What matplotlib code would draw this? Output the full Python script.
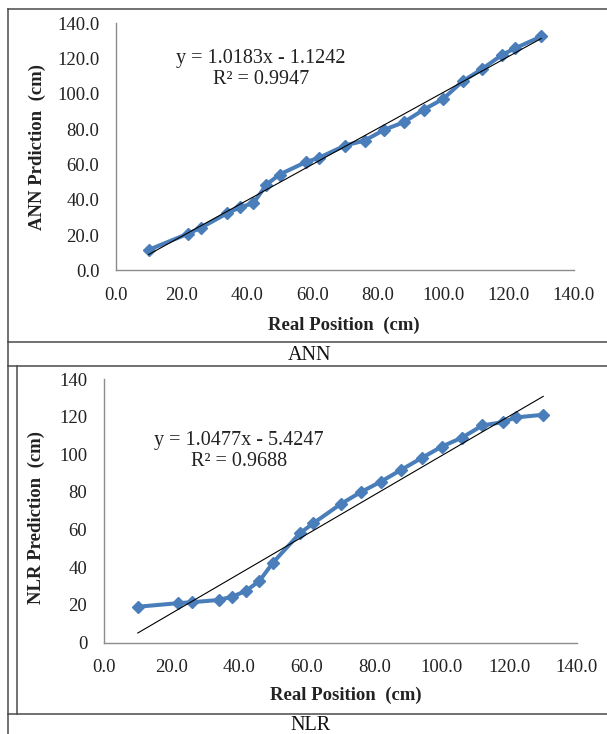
import numpy as np
import matplotlib
matplotlib.use("Agg")
import matplotlib.pyplot as plt
from matplotlib.lines import Line2D

plt.rcParams['font.family'] = ['Liberation Serif', 'DejaVu Serif']

# Data
real_pos = [10, 22, 26, 34, 38, 42, 46, 50, 58, 62, 70, 76, 82, 88, 94, 100, 106, 112, 118, 122, 130]
ann_pred = [11.7, 20.8, 24.2, 32.4, 35.8, 38.1, 48.6, 54.3, 61.3, 63.7, 70.7, 73.5, 79.6, 83.9,
            90.9, 97.1, 107.1, 114.1, 122.0, 125.7, 132.4]
nlr_pred = [19.0, 20.9, 21.4, 22.6, 24.4, 27.4, 32.7, 42.4, 58.1, 63.4, 73.5, 79.9, 85.5, 91.8,
            98.0, 104.1, 108.9, 115.3, 117.1, 119.6, 121.0]

ann_fit = (1.0183, -1.1242)
nlr_fit = (1.0477, -5.4247)
ann_r2 = "0.9947"
nlr_r2 = "0.9688"

x_ticks = [0, 20, 40, 60, 80, 100, 120, 140]

W, H = 607, 734
fig = plt.figure(figsize=(W / 100, H / 100), dpi=100)


def fx(x):
    return x / W


def fy(y):
    return 1 - y / H


blue = "#4A7EBB"
grey = "#8C8C8C"


def draw_panel(rect, y, fit, r2, ylabel, ytick_fmt, eq_pos, xlab_pos, ylab_pos):
    left, top, right, bottom = rect
    ax = fig.add_axes([fx(left), fy(bottom), fx(right - left), (bottom - top) / H])
    ax.plot(real_pos, y, color=blue, lw=2.9, marker="D", ms=6.5, mfc=blue, mec=blue, zorder=3)
    xs = np.array([real_pos[0], real_pos[-1]])
    ax.plot(xs, fit[0] * xs + fit[1], color="black", lw=0.8, zorder=4)
    ax.set_xlim(0, 140)
    ax.set_ylim(0, 140)
    ax.set_xticks(x_ticks)
    ax.set_xticklabels([f"{v:.1f}" for v in x_ticks])
    ax.set_yticks(x_ticks)
    ax.set_yticklabels([ytick_fmt.format(v) for v in x_ticks])
    for s in ("top", "right"):
        ax.spines[s].set_visible(False)
    for s in ("left", "bottom"):
        ax.spines[s].set_color(grey)
        ax.spines[s].set_linewidth(1.0)
    ax.tick_params(length=0, labelsize=13.5, colors="#222222", pad=12)
    ax.patch.set_alpha(0)
    sign = "-" if fit[1] < 0 else "+"
    fig.text(fx(eq_pos[0]), fy(eq_pos[1]),
             f"y = {fit[0]:.4f}x {sign} {abs(fit[1]):.4f}\nR\u00b2 = {r2}",
             ha="center", va="center", fontsize=14.5, linespacing=1.15, color="#222222")
    fig.text(fx(xlab_pos[0]), fy(xlab_pos[1]), "Real Position  (cm)", ha="center", va="center",
             fontsize=13.5, fontweight="bold", color="#222222")
    fig.text(fx(ylab_pos[0]), fy(ylab_pos[1]), ylabel, ha="center", va="center", rotation=90,
             fontsize=13.5, fontweight="bold", color="#222222")
    return ax


draw_panel((116, 23, 574, 270.5), ann_pred, ann_fit, ann_r2, "ANN Prdiction  (cm)", "{:.1f}",
           (261, 69), (344, 325), (37, 147))
draw_panel((104, 379, 577, 642.5), nlr_pred, nlr_fit, nlr_r2, "NLR Prediction  (cm)", "{:d}",
           (239, 451), (346, 695), (36, 517))

# table borders
line_c = "#4a4a4a"
segs = [
    ((8, 9), (8, H)),
    ((8, 9), (W, 9)),
    ((8, 342), (W, 342)),
    ((8, 366), (W, 366)),
    ((8, 714), (W, 714)),
    ((17, 366), (17, 714)),
]
for (x0, y0), (x1, y1) in segs:
    fig.add_artist(Line2D([fx(x0), fx(x1)], [fy(y0), fy(y1)], color=line_c, lw=1.1))

fig.text(fx(310), fy(355.5), "ANN", ha="center", va="center", fontsize=14.5, color="#111111")
fig.text(fx(311), fy(725), "NLR", ha="center", va="center", fontsize=14.5, color="#111111")

fig.savefig("out.png", dpi=100, facecolor="white")
